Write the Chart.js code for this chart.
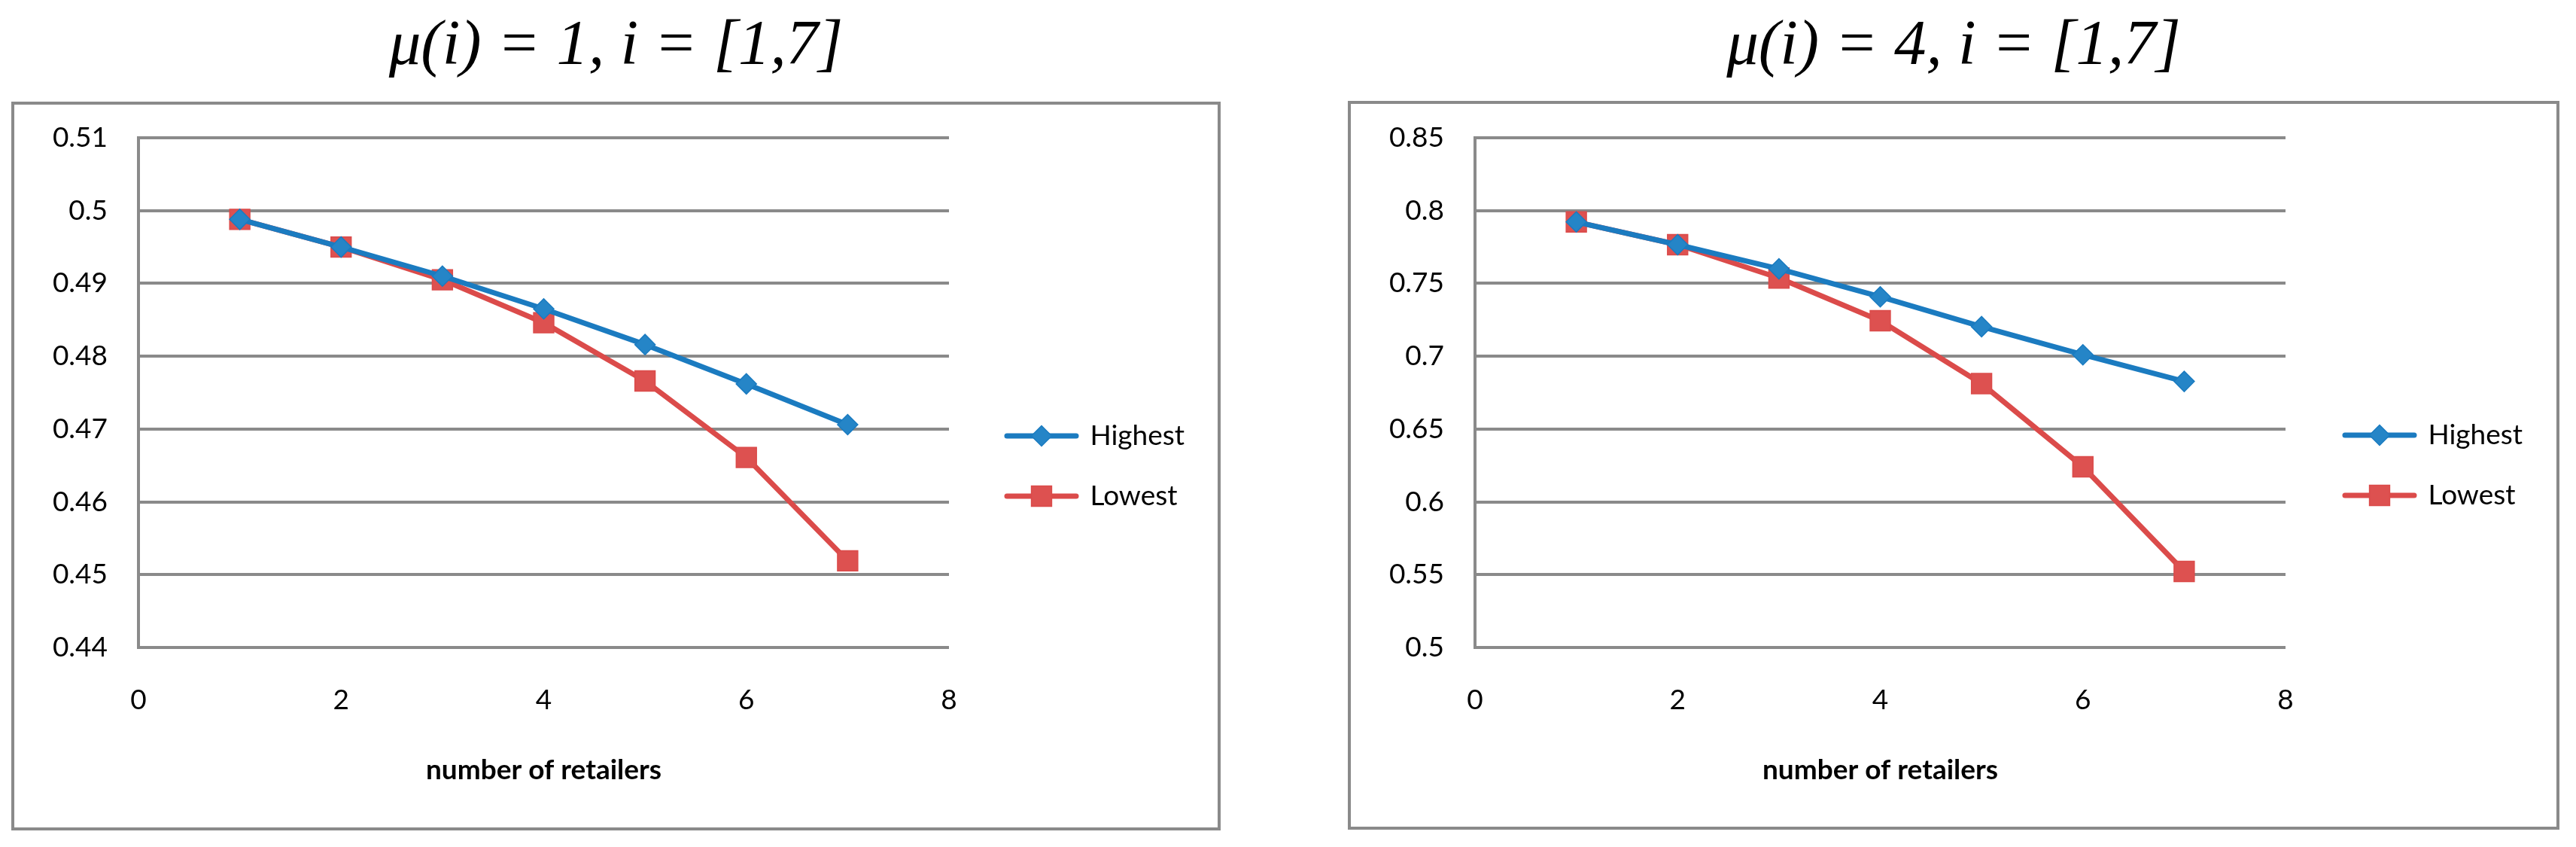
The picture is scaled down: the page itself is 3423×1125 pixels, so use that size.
<!DOCTYPE html>
<html>
<head>
<meta charset="utf-8">
<script src="https://cdn.jsdelivr.net/npm/chart.js@4/dist/chart.umd.min.js"></script>
<style>
  html, body { margin: 0; padding: 0; background: #ffffff; }
  body { width: 3423px; height: 1125px; position: relative; overflow: hidden; }
  canvas { position: absolute; top: 0; }
  #c1 { left: 0px; }
  #c2 { left: 1770px; }
</style>
</head>
<body>
<canvas id="c1" width="1637" height="1125"></canvas>
<canvas id="c2" width="1653" height="1125"></canvas>
<script>
// ---------- data ----------
const retailers = [1, 2, 3, 4, 5, 6, 7];
const seriesNames = ['Highest', 'Lowest'];

const titleLeft = 'μ(i) = 1, i = [1,7]';
const highestLeft = [0.4988, 0.4950, 0.4910, 0.4865, 0.4816, 0.4762, 0.4706];
const lowestLeft  = [0.4988, 0.4950, 0.4905, 0.4846, 0.4766, 0.4661, 0.4519];
const yTicksLeft  = ['0.44', '0.45', '0.46', '0.47', '0.48', '0.49', '0.5', '0.51'];

const titleRight = 'μ(i) = 4, i = [1,7]';
const highestRight = [0.7922, 0.7766, 0.7600, 0.7408, 0.7203, 0.7010, 0.6827];
const lowestRight  = [0.7922, 0.7766, 0.7537, 0.7244, 0.6812, 0.6241, 0.5522];
const yTicksRight  = ['0.5', '0.55', '0.6', '0.65', '0.7', '0.75', '0.8', '0.85'];

const xTicks = ['0', '2', '4', '6', '8'];
const xTitle = 'number of retailers';

// ---------- style ----------
const BLUE = '#1b7bc0', BLUE_FILL = '#2585c7';
const RED = '#db4b4a', RED_FILL = '#dd5150';
const GRAY = '#8a8a8a';
const TICK_FONT = { family: 'Lato', size: 37, weight: 'normal' };

const framePlugin = {
  id: 'frame',
  beforeDraw(chart, args, o) {
    const ctx = chart.ctx;
    ctx.save();
    ctx.fillStyle = '#ffffff';
    ctx.fillRect(0, 0, chart.width, chart.height);
    ctx.strokeStyle = o.color;
    ctx.lineWidth = o.width;
    ctx.strokeRect(o.x1, o.y1, o.x2 - o.x1, o.y2 - o.y1);
    ctx.restore();
  }
};

const placePlugin = {
  id: 'place',
  afterLayout(chart, args, o) {
    const tb = chart.titleBlock;
    if (tb) { tb.left = o.titleLeft; tb.right = o.titleRight; tb.width = o.titleRight - o.titleLeft; }
    const lg = chart.legend;
    if (!lg) return;
    const w = lg.width;
    lg.left = o.legendLeft; lg.right = o.legendLeft + w;
    lg.top = o.legendTop; lg.bottom = o.legendBottom; lg.height = o.legendBottom - o.legendTop;
  },
  afterDraw(chart) {
    const lg = chart.legend;
    if (!lg || !lg.legendHitBoxes) return;
    const ctx = chart.ctx;
    const bw = lg.options.labels.pointStyleWidth;
    lg.legendHitBoxes.forEach((hb, i) => {
      const ds = chart.data.datasets[i];
      const cx = hb.left + bw / 2;
      const cy = hb.top + hb.height / 2;
      ctx.save();
      ctx.fillStyle = ds.pointBackgroundColor;
      ctx.strokeStyle = ds.pointBorderColor;
      ctx.lineWidth = ds.pointBorderWidth;
      Chart.helpers.drawPoint(ctx, {
        pointStyle: ds.pointStyle, radius: ds.pointRadius,
        borderWidth: ds.pointBorderWidth, rotation: 0
      }, cx, cy);
      ctx.restore();
    });
  }
};

function makeChart(id, cfg) {
  const tickVals = cfg.yTicks.map(Number);
  const yMin = tickVals[0], yMax = tickVals[tickVals.length - 1];
  const xVals = xTicks.map(Number);
  const datasets = [
    {
      label: seriesNames[0],
      data: retailers.map((x, i) => ({ x, y: cfg.high[i] })),
      borderColor: BLUE, borderWidth: 7,
      borderJoinStyle: 'round', borderCapStyle: 'round',
      pointStyle: 'rectRot', pointRadius: 13.5,
      pointBackgroundColor: BLUE_FILL, pointBorderColor: BLUE, pointBorderWidth: 1.5,
      tension: 0, fill: false
    },
    {
      label: seriesNames[1],
      data: retailers.map((x, i) => ({ x, y: cfg.low[i] })),
      borderColor: RED, borderWidth: 7,
      borderJoinStyle: 'round', borderCapStyle: 'round',
      pointStyle: 'rect', pointRadius: 19,
      pointBackgroundColor: RED_FILL, pointBorderColor: RED, pointBorderWidth: 1.5,
      tension: 0, fill: false
    }
  ];
  return new Chart(document.getElementById(id), {
    type: 'line',
    data: { datasets },
    plugins: [framePlugin, placePlugin],
    options: {
      responsive: false,
      animation: false,
      devicePixelRatio: 1,
      layout: { padding: { left: 0, top: 0, right: cfg.padRight, bottom: 0 } },
      scales: {
        x: {
          type: 'linear', min: xVals[0], max: xVals[xVals.length - 1],
          afterBuildTicks(scale) { scale.ticks = xVals.map(v => ({ value: v })); },
          afterFit(scale) { scale.height = 265; },
          ticks: {
            font: TICK_FONT, color: '#000000', padding: 40,
            callback: (v, i) => xTicks[i]
          },
          grid: { display: false },
          border: { display: false },
          title: {
            display: true, text: xTitle, color: '#000000',
            font: { family: 'Lato', size: 37, weight: 'bold' },
            padding: { top: 0, bottom: 80 }
          }
        },
        y: {
          type: 'linear', min: yMin, max: yMax,
          afterBuildTicks(scale) { scale.ticks = tickVals.map(v => ({ value: v })); },
          afterFit(scale) { scale.width = cfg.yAxisWidth; },
          ticks: {
            font: TICK_FONT, color: '#000000', padding: 41,
            callback: (v, i) => cfg.yTicks[i]
          },
          grid: { color: GRAY, lineWidth: 4, drawTicks: false },
          border: { display: true, color: GRAY, width: 4 }
        }
      },
      plugins: {
        title: {
          display: true, text: cfg.title, color: '#000000',
          font: { family: 'Liberation Serif', style: 'italic', weight: 'normal', size: 85, lineHeight: 1.2 },
          padding: { top: 12, bottom: 69 }
        },
        legend: {
          display: true, position: 'chartArea', align: 'center',
          labels: {
            font: { family: 'Lato', size: 37 }, color: '#000000',
            usePointStyle: true, pointStyleWidth: 92, padding: 43,
            generateLabels(chart) {
              return chart.data.datasets.map((ds, i) => ({
                text: ds.label, fillStyle: ds.borderColor, strokeStyle: ds.borderColor,
                lineWidth: ds.borderWidth, lineCap: 'round', pointStyle: 'line',
                datasetIndex: i, hidden: false, fontColor: '#000000'
              }));
            }
          }
        },
        tooltip: { enabled: false },
        frame: { x1: cfg.frame[0], y1: cfg.frame[1], x2: cfg.frame[2], y2: cfg.frame[3], color: GRAY, width: 4 },
        place: {
          titleLeft: cfg.frame[0], titleRight: cfg.frame[2],
          legendLeft: cfg.legendLeft, legendTop: cfg.frame[1], legendBottom: cfg.frame[3]
        }
      }
    }
  });
}

makeChart('c1', {
  title: titleLeft, high: highestLeft, low: lowestLeft, yTicks: yTicksLeft,
  yAxisWidth: 184, padRight: 376, frame: [17, 137, 1620, 1101], legendLeft: 1295
});
makeChart('c2', {
  title: titleRight, high: highestRight, low: lowestRight, yTicks: yTicksRight,
  yAxisWidth: 190, padRight: 386, frame: [23, 136, 1629, 1100], legendLeft: 1303
});
</script>
</body>
</html>
